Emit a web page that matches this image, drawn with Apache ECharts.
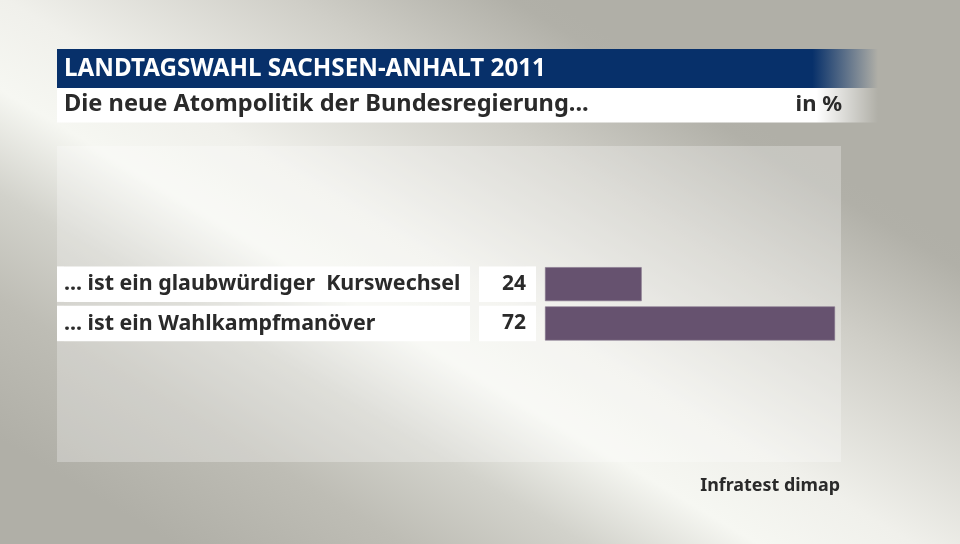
<!DOCTYPE html>
<html>
<head>
<meta charset="utf-8">
<script src="https://cdn.jsdelivr.net/npm/echarts@6/dist/echarts.min.js"></script>
<style>
html,body{margin:0;padding:0;}
#chart{width:960px;height:544px;}
</style>
</head>
<body>
<div id="chart"></div>
<script>
const titleText = 'LANDTAGSWAHL SACHSEN-ANHALT 2011';
const subtitleText = 'Die neue Atompolitik der Bundesregierung...';
const unitText = 'in %';
const sourceText = 'Infratest dimap';
const categories = ['... ist ein glaubwürdiger  Kurswechsel', '... ist ein Wahlkampfmanöver'];
const values = [24, 72];

const FONT = '"Noto Sans", sans-serif';
const TXT = '#2a2a2a';

const chart = echarts.init(document.getElementById('chart'), null, {renderer: 'canvas'});

const bg = new echarts.graphic.LinearGradient(-54, 407, 285, -159, [
  {offset: 0, color: '#b0afa7'},
  {offset: 0.18, color: '#bebdb5'},
  {offset: 0.32, color: '#d2d2cb'},
  {offset: 0.455, color: '#f6f7f2'},
  {offset: 0.576, color: '#f0f0eb'},
  {offset: 0.803, color: '#cfcec7'},
  {offset: 0.97, color: '#b1b0a8'},
  {offset: 1, color: '#b0afa7'}
], true);

chart.setOption({
  backgroundColor: bg,
  animation: false,
  grid: {left: 545, width: 402.8, top: 264.5, height: 78.6, containLabel: false},
  xAxis: {type: 'value', min: 0, max: 100, show: false},
  yAxis: {
    type: 'category',
    data: categories,
    inverse: true,
    axisLine: {show: false},
    axisTick: {show: false},
    splitLine: {show: false},
    axisLabel: {
      margin: 488,
      align: 'left',
      formatter: function (v) { return '{s| }{a|' + v + '}'; },
      rich: {
        s: {width: 7, height: 35.5, lineHeight: 35.5, backgroundColor: '#ffffff'},
        a: {width: 406, height: 35.5, lineHeight: 35.5, align: 'left', backgroundColor: '#ffffff',
            fontFamily: FONT, fontWeight: 'bold', fontSize: 21.4, color: TXT}
      }
    }
  },
  series: [{
    type: 'bar',
    data: values,
    barWidth: 34,
    itemStyle: {color: '#66526f', borderColor: '#85768c', borderWidth: 0.6},
    label: {
      show: true,
      position: 'left',
      distance: 9,
      formatter: function (p) { return '{v|' + p.value + '}{p| }'; },
      rich: {
        v: {width: 47, height: 35.5, lineHeight: 35.5, align: 'right', backgroundColor: '#ffffff',
            fontFamily: FONT, fontWeight: 'bold', fontSize: 21, color: TXT},
        p: {width: 10, height: 35.5, lineHeight: 35.5, backgroundColor: '#ffffff'}
      }
    }
  }],
  graphic: [
    {type: 'rect', z: -10, shape: {x: 57, y: 146, width: 784, height: 316},
     style: {fill: 'rgba(255,255,255,0.28)'}},
    {type: 'rect', z: 1, shape: {x: 57, y: 49, width: 821, height: 39},
     style: {fill: new echarts.graphic.LinearGradient(0, 0, 1, 0, [
       {offset: 0, color: 'rgba(7,48,106,1)'},
       {offset: 0.92, color: 'rgba(7,48,106,1)'},
       {offset: 1, color: 'rgba(7,48,106,0)'}
     ])}},
    {type: 'rect', z: 1, shape: {x: 57, y: 88, width: 821, height: 34.5},
     style: {fill: new echarts.graphic.LinearGradient(0, 0, 1, 0, [
       {offset: 0, color: 'rgba(255,255,255,1)'},
       {offset: 0.925, color: 'rgba(255,255,255,1)'},
       {offset: 1, color: 'rgba(255,255,255,0)'}
     ])}},
    {type: 'text', z: 2, x: 64, y: 68.7,
     style: {text: titleText, fill: '#ffffff', font: 'bold 24.2px ' + FONT, verticalAlign: 'middle'}},
    {type: 'text', z: 2, x: 64, y: 104.4,
     style: {text: subtitleText, fill: TXT, font: 'bold 23.6px ' + FONT, verticalAlign: 'middle'}},
    {type: 'text', z: 2, x: 842, y: 104.4,
     style: {text: unitText, fill: TXT, font: 'bold 22px ' + FONT, align: 'right', verticalAlign: 'middle'}},
    {type: 'text', z: 2, x: 840, y: 486.3,
     style: {text: sourceText, fill: TXT, font: 'bold 17.9px ' + FONT, align: 'right', verticalAlign: 'middle'}}
  ]
});
</script>
</body>
</html>
